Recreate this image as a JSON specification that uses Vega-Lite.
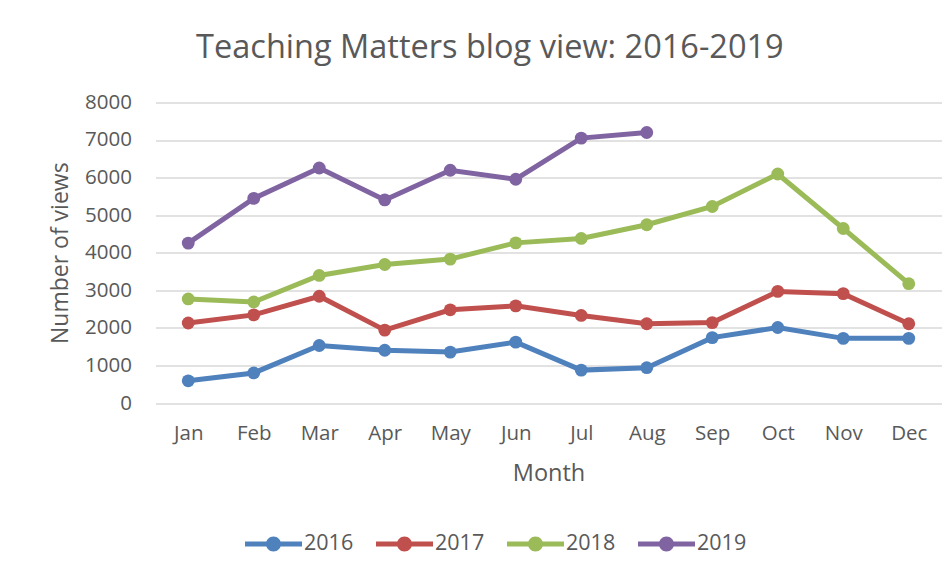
{
  "$schema": "https://vega.github.io/schema/vega-lite/v6.json",
  "autosize": "none",
  "width": 786,
  "height": 300.6,
  "padding": {"left": 155.5, "top": 102.4, "right": 8.5, "bottom": 174},
  "background": "white",
  "title": {
    "text": "Teaching Matters blog view: 2016-2019",
    "anchor": "middle",
    "frame": "group",
    "dx": -58.6,
    "offset": 28,
    "font": "Open Sans",
    "fontSize": 32.5,
    "fontWeight": "normal",
    "color": "#595959"
  },
  "config": {
    "view": {"stroke": null},
    "font": "Open Sans"
  },
  "data": {
    "values": [
      {"month": "Jan", "year": "2016", "views": 590},
      {"month": "Feb", "year": "2016", "views": 800},
      {"month": "Mar", "year": "2016", "views": 1530},
      {"month": "Apr", "year": "2016", "views": 1405},
      {"month": "May", "year": "2016", "views": 1355},
      {"month": "Jun", "year": "2016", "views": 1620},
      {"month": "Jul", "year": "2016", "views": 875},
      {"month": "Aug", "year": "2016", "views": 940},
      {"month": "Sep", "year": "2016", "views": 1740},
      {"month": "Oct", "year": "2016", "views": 2010},
      {"month": "Nov", "year": "2016", "views": 1720},
      {"month": "Dec", "year": "2016", "views": 1720},
      {"month": "Jan", "year": "2017", "views": 2130},
      {"month": "Feb", "year": "2017", "views": 2345},
      {"month": "Mar", "year": "2017", "views": 2840},
      {"month": "Apr", "year": "2017", "views": 1940},
      {"month": "May", "year": "2017", "views": 2480},
      {"month": "Jun", "year": "2017", "views": 2585},
      {"month": "Jul", "year": "2017", "views": 2330},
      {"month": "Aug", "year": "2017", "views": 2110},
      {"month": "Sep", "year": "2017", "views": 2140},
      {"month": "Oct", "year": "2017", "views": 2970},
      {"month": "Nov", "year": "2017", "views": 2910},
      {"month": "Dec", "year": "2017", "views": 2110},
      {"month": "Jan", "year": "2018", "views": 2770},
      {"month": "Feb", "year": "2018", "views": 2690},
      {"month": "Mar", "year": "2018", "views": 3395},
      {"month": "Apr", "year": "2018", "views": 3685},
      {"month": "May", "year": "2018", "views": 3830},
      {"month": "Jun", "year": "2018", "views": 4262},
      {"month": "Jul", "year": "2018", "views": 4380},
      {"month": "Aug", "year": "2018", "views": 4745},
      {"month": "Sep", "year": "2018", "views": 5230},
      {"month": "Oct", "year": "2018", "views": 6095},
      {"month": "Nov", "year": "2018", "views": 4645},
      {"month": "Dec", "year": "2018", "views": 3175},
      {"month": "Jan", "year": "2019", "views": 4255},
      {"month": "Feb", "year": "2019", "views": 5445},
      {"month": "Mar", "year": "2019", "views": 6255},
      {"month": "Apr", "year": "2019", "views": 5405},
      {"month": "May", "year": "2019", "views": 6195},
      {"month": "Jun", "year": "2019", "views": 5955},
      {"month": "Jul", "year": "2019", "views": 7050},
      {"month": "Aug", "year": "2019", "views": 7200}
    ]
  },
  "encoding": {
    "x": {
      "field": "month",
      "type": "ordinal",
      "sort": ["Jan", "Feb", "Mar", "Apr", "May", "Jun", "Jul", "Aug", "Sep", "Oct", "Nov", "Dec"],
      "scale": {"type": "point", "padding": 0.5},
      "axis": {
        "title": "Month",
        "titleFont": "Open Sans",
        "titleFontSize": 23.5,
        "titleFontWeight": "normal",
        "titleColor": "#595959",
        "titlePadding": 18,
        "labelFont": "Open Sans",
        "labelFontSize": 20.5,
        "labelColor": "#595959",
        "labelAngle": 0,
        "labelPadding": 20,
        "domain": false,
        "ticks": false,
        "grid": false
      }
    },
    "y": {
      "field": "views",
      "type": "quantitative",
      "scale": {"domain": [0, 8000], "nice": false},
      "axis": {
        "title": "Number of views",
        "format": "d",
        "values": [0, 1000, 2000, 3000, 4000, 5000, 6000, 7000, 8000],
        "titleFont": "Open Sans",
        "titleFontSize": 23,
        "titleFontWeight": "normal",
        "titleColor": "#595959",
        "titlePadding": 12,
        "labelFont": "Open Sans",
        "labelFontSize": 20.5,
        "labelColor": "#595959",
        "labelPadding": 24,
        "domain": false,
        "ticks": false,
        "grid": true,
        "gridColor": "#d9d9d9",
        "gridWidth": 1.5
      }
    },
    "color": {
      "field": "year",
      "type": "nominal",
      "scale": {
        "domain": ["2016", "2017", "2018", "2019"],
        "range": ["#4F81BD", "#C0504D", "#9BBB59", "#8064A2"]
      },
      "legend": {
        "title": null,
        "orient": "none",
        "direction": "horizontal",
        "legendX": 89.5,
        "legendY": 413,
        "padding": 0,
        "symbolType": "M-1,-0.088H1V0.088H-1Z M0.263,0A0.263,0.263,0,1,1,-0.263,0A0.263,0.263,0,1,1,0.263,0Z",
        "symbolSize": 3249,
        "symbolStrokeWidth": 0,
        "labelFont": "Open Sans",
        "labelFontSize": 21.5,
        "labelColor": "#595959",
        "labelOffset": 2,
        "columnPadding": 22,
        "encode": {
          "symbols": {
            "update": {
              "fill": {"scale": "color", "field": "value"},
              "opacity": {"value": 1},
              "strokeWidth": {"value": 0}
            }
          }
        }
      }
    }
  },
  "layer": [
    {"mark": {"type": "line", "strokeWidth": 5}},
    {"mark": {"type": "point", "filled": true, "size": 165, "opacity": 1}}
  ]
}
